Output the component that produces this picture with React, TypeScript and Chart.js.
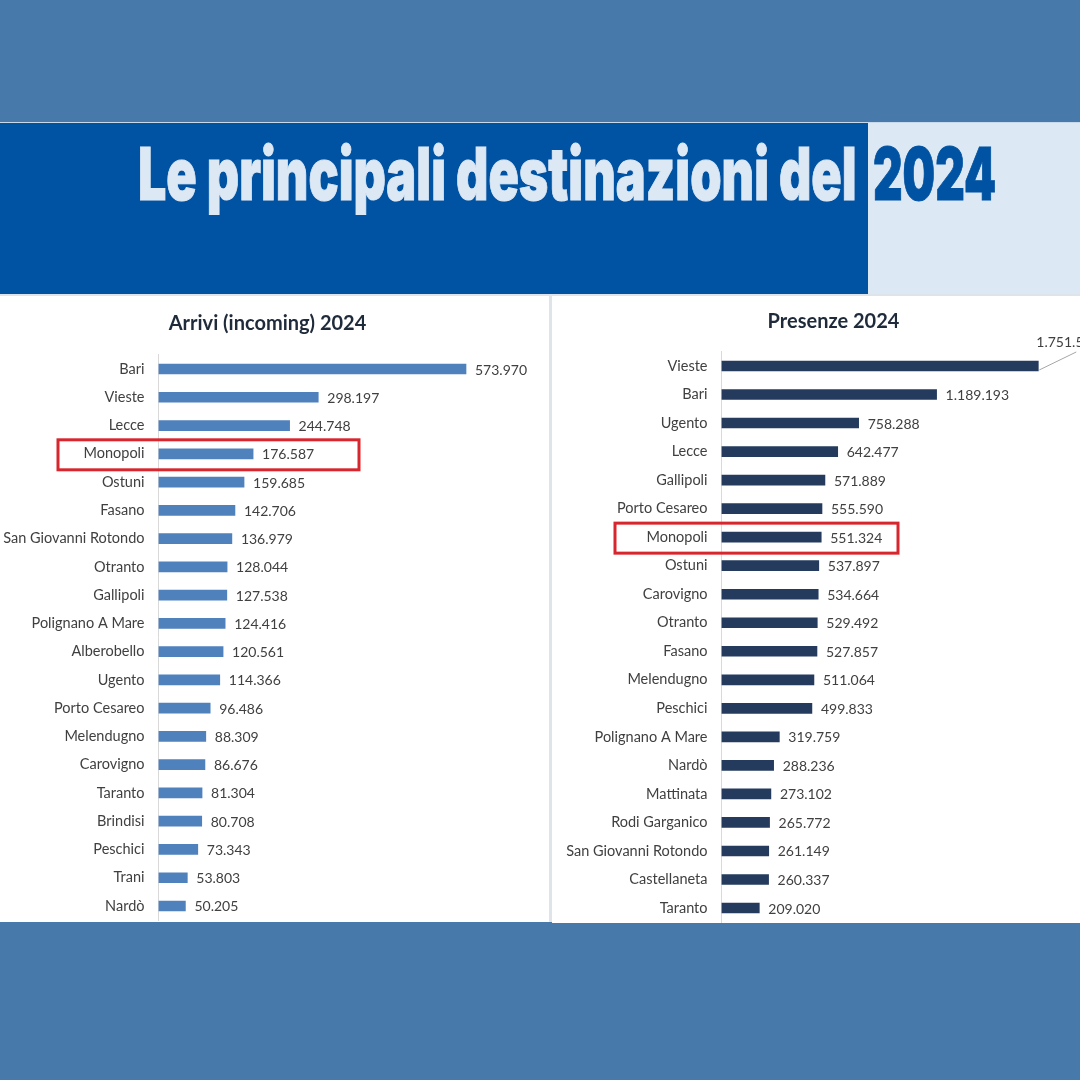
import React, { useEffect, useLayoutEffect, useRef } from "react";
import { Chart, registerables } from "chart.js";

Chart.register(...registerables);

// ---------- DATA ----------
const arriviCities = [
  "Bari", "Vieste", "Lecce", "Monopoli", "Ostuni", "Fasano", "San Giovanni Rotondo",
  "Otranto", "Gallipoli", "Polignano A Mare", "Alberobello", "Ugento", "Porto Cesareo",
  "Melendugno", "Carovigno", "Taranto", "Brindisi", "Peschici", "Trani", "Nardò",
];
const arriviValues = [
  573970, 298197, 244748, 176587, 159685, 142706, 136979, 128044, 127538, 124416,
  120561, 114366, 96486, 88309, 86676, 81304, 80708, 73343, 53803, 50205,
];

const presenzeCities = [
  "Vieste", "Bari", "Ugento", "Lecce", "Gallipoli", "Porto Cesareo", "Monopoli", "Ostuni",
  "Carovigno", "Otranto", "Fasano", "Melendugno", "Peschici", "Polignano A Mare", "Nardò",
  "Mattinata", "Rodi Garganico", "San Giovanni Rotondo", "Castellaneta", "Taranto",
];
const presenzeValues = [
  1751500, 1189193, 758288, 642477, 571889, 555590, 551324, 537897, 534664, 529492,
  527857, 511064, 499833, 319759, 288236, 273102, 265772, 261149, 260337, 209020,
];

const highlightCity = "Monopoli";
const mainTitle = "Le principali destinazioni del";
const mainTitleYear = "2024";
const arriviTitle = "Arrivi (incoming) 2024";
const presenzeTitle = "Presenze 2024";

// ---------- HELPERS ----------
const fmt = (v: number) => String(Math.round(v)).replace(/\B(?=(\d{3})+(?!\d))/g, ".");
const FONT = "Lato, 'Open Sans', 'Noto Sans', sans-serif";
const TEXT_COLOR = "#404040";

type PanelOpts = {
  labels: string[];
  values: number[];
  color: string;
  axisX: number;
  xMax: number;
  padTop: number;
  padBottom: number;
  padRight: number;
  title: string;
  titleX: number;
  titleY: number;
  boxLeft: number;
  boxRight: number;
  calloutFirst: boolean;
};

function makeConfig(o: PanelOpts): any {
  const decor = {
    id: "decor",
    afterDatasetsDraw(chart: any) {
      const ctx = chart.ctx;
      const meta = chart.getDatasetMeta(0);
      ctx.save();
      ctx.font = `14px ${FONT}`;
      ctx.fillStyle = TEXT_COLOR;
      ctx.textBaseline = "middle";
      ctx.textAlign = "left";
      meta.data.forEach((bar: any, i: number) => {
        const p = bar.getProps(["x", "y"], true);
        const txt = fmt(o.values[i]);
        if (i === 0 && o.calloutFirst) {
          ctx.strokeStyle = "#a6a6a6";
          ctx.lineWidth = 1;
          ctx.beginPath();
          ctx.moveTo(p.x + 1, p.y + 4);
          ctx.lineTo(p.x + 38, p.y - 14);
          ctx.stroke();
          ctx.fillText(txt, p.x - 2, p.y - 23);
        } else {
          ctx.fillText(txt, p.x + 9, p.y + 1);
        }
      });
      // title
      ctx.font = `bold 20px ${FONT}`;
      ctx.fillStyle = "#1f2b3a";
      ctx.textAlign = "center";
      ctx.fillText(o.title, o.titleX, o.titleY);
      // highlight box
      const idx = o.labels.indexOf(highlightCity);
      if (idx >= 0) {
        const yc = chart.scales.y.getPixelForValue(idx);
        ctx.strokeStyle = "#d7262d";
        ctx.lineWidth = 3;
        ctx.strokeRect(o.boxLeft, yc - 14, o.boxRight - o.boxLeft, 30);
      }
      ctx.restore();
    },
  };

  return {
    type: "bar",
    data: {
      labels: o.labels,
      datasets: [
        {
          data: o.values,
          backgroundColor: o.color,
          borderWidth: 0,
          barThickness: 10,
        },
      ],
    },
    options: {
      indexAxis: "y",
      animation: false,
      responsive: false,
      maintainAspectRatio: false,
      devicePixelRatio: 1,
      layout: { padding: { top: o.padTop, bottom: o.padBottom, right: o.padRight, left: 0 } },
      plugins: {
        legend: { display: false },
        tooltip: { enabled: false },
        title: { display: false },
      },
      scales: {
        x: { display: false, min: 0, max: o.xMax },
        y: {
          grid: { display: false, drawTicks: false },
          border: { display: true, color: "#d9d9d9", width: 1 },
          ticks: { color: TEXT_COLOR, font: { family: FONT, size: 14.5 }, padding: 14, autoSkip: false },
          afterFit: (scale: any) => {
            scale.width = o.axisX;
            scale.paddingTop = 0;
            scale.paddingBottom = 0;
          },
        },
      },
    },
    plugins: [decor],
  };
}

function Panel({ left, top, width, height, opts }: { left: number; top: number; width: number; height: number; opts: PanelOpts }) {
  const ref = useRef<HTMLCanvasElement>(null);
  useEffect(() => {
    if (!ref.current) return;
    const chart = new Chart(ref.current, makeConfig(opts));
    return () => chart.destroy();
  }, []);
  return (
    <canvas
      ref={ref}
      width={width}
      height={height}
      style={{ position: "absolute", left, top, width, height, background: "#ffffff", display: "block" }}
    />
  );
}

function FitText({ text, left, width, color }: { text: string; left: number; width: number; color: string }) {
  const ref = useRef<HTMLDivElement>(null);
  useLayoutEffect(() => {
    const el = ref.current;
    if (el) {
      const w = el.offsetWidth;
      if (w > 0) el.style.transform = `scaleX(${width / w})`;
    }
  }, []);
  return (
    <div
      ref={ref}
      style={{
        position: "absolute",
        left,
        top: 137,
        whiteSpace: "nowrap",
        fontFamily: "Inter, 'Liberation Sans', Arial, sans-serif",
        fontWeight: 900,
        fontSize: 73,
        lineHeight: "73px",
        transformOrigin: "0 0",
        WebkitTextStroke: "1px currentColor",
        letterSpacing: "0px",
        color,
      }}
    >
      {text}
    </div>
  );
}

export default function App() {
  useLayoutEffect(() => {
    document.body.style.margin = "0";
  }, []);

  return (
    <div style={{ position: "absolute", left: 0, top: 0, width: 1080, height: 1080, background: "#4879ab", overflow: "hidden" }}>
      {/* banner */}
      <div style={{ position: "absolute", left: 0, top: 122, width: 1080, height: 1, background: "#c9d9ec" }} />
      <div style={{ position: "absolute", left: 0, top: 123, width: 868, height: 171, background: "#0053a2" }} />
      <div style={{ position: "absolute", left: 868, top: 123, width: 212, height: 171, background: "#dde8f5" }} />
      <FitText text={mainTitle} left={138} width={719} color="#dde8f5" />
      <FitText text={mainTitleYear} left={873} width={123} color="#0053a2" />
      {/* panels area */}
      <div style={{ position: "absolute", left: 0, top: 294, width: 1080, height: 628, background: "#dfe4ea" }} />
      <Panel
        left={0}
        top={296}
        width={549}
        height={626}
        opts={{
          labels: arriviCities,
          values: arriviValues,
          color: "#4f81bd",
          axisX: 158.5,
          xMax: 712100,
          padTop: 58.9,
          padBottom: 1.9,
          padRight: 9,
          title: arriviTitle,
          titleX: 267.5,
          titleY: 28,
          boxLeft: 58,
          boxRight: 359,
          calloutFirst: false,
        }}
      />
      <Panel
        left={552}
        top={296}
        width={528}
        height={627}
        opts={{
          labels: presenzeCities,
          values: presenzeValues,
          color: "#243b5e",
          axisX: 169.5,
          xMax: 1982000,
          padTop: 55.7,
          padBottom: 0.7,
          padRight: 0,
          title: presenzeTitle,
          titleX: 281.5,
          titleY: 26,
          boxLeft: 63,
          boxRight: 346,
          calloutFirst: true,
        }}
      />
    </div>
  );
}
